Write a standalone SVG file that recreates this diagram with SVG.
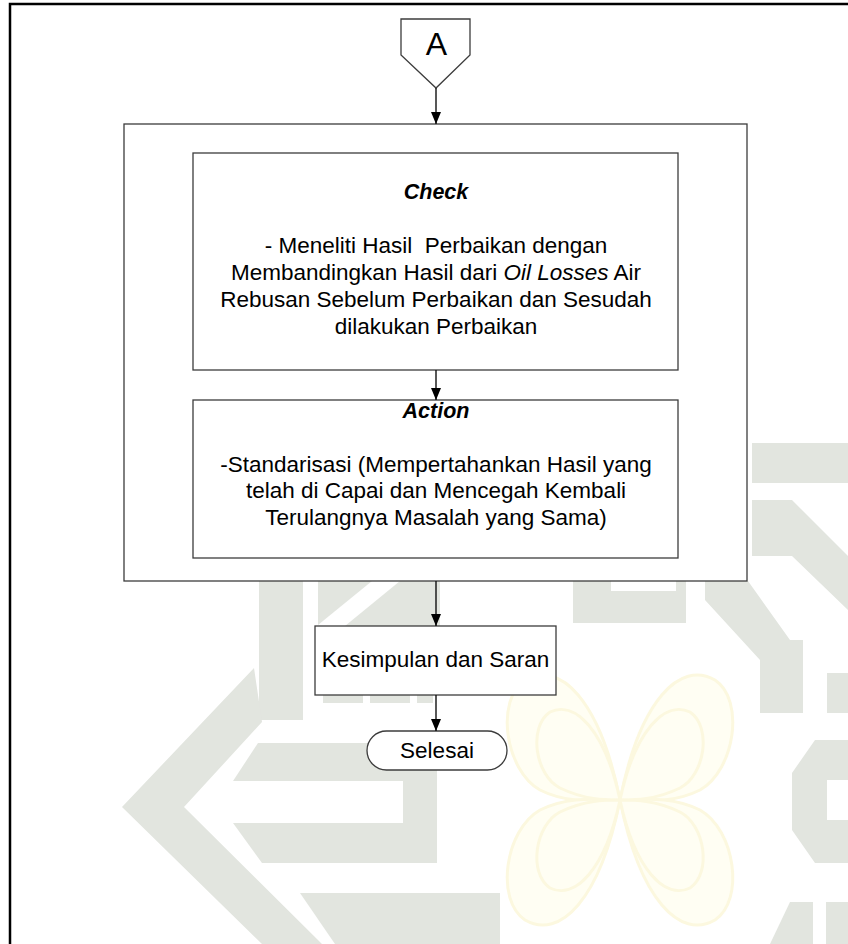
<svg xmlns="http://www.w3.org/2000/svg" width="848" height="944" viewBox="0 0 848 944">
  <defs>
    <style>
      .wm { fill: #e2e5df; stroke: none; }
      .wy { fill: #fffef3; stroke: #fcf8df; stroke-width: 3; }
      .box { fill: #ffffff; stroke: #3c3c3c; stroke-width: 1.3; }
      .lbl { font-family: "Liberation Sans", Arial, sans-serif; font-size: 22.5px; fill: #000; text-anchor: middle; }
      .head { font-family: "Liberation Sans", Arial, sans-serif; font-size: 21.5px; font-weight: bold; font-style: italic; fill: #000; text-anchor: middle; }
      .conn { fill: none; stroke: #111; stroke-width: 1.4; marker-end: url(#arrow); }
    </style>
    <marker id="arrow" viewBox="0 0 12 10" refX="12" refY="5" markerWidth="12" markerHeight="10" markerUnits="userSpaceOnUse" orient="auto">
      <path d="M0,0 L12,5 L0,10 Z" fill="#000"/>
    </marker>
  </defs>

  <rect width="848" height="944" fill="#ffffff"/>

  <!-- faint background emblem -->
  <g id="watermark">
    <g class="wm">
      <rect x="259" y="581" width="44" height="139"/>
      <polygon points="254,668 122,807 262,944 322,944 184,807 262,722"/>
      <polygon points="318,581 372,581 318,625"/>
      <polygon points="400,581 440,581 440,626 345,626"/>
      <rect x="323" y="695" width="40" height="8"/>
      <rect x="370" y="695" width="40" height="8"/>
      <rect x="417" y="695" width="16" height="8"/>
      <polygon points="233,781 258,743 437,743 437,781"/>
      <rect x="403" y="781" width="34" height="42"/>
      <polygon points="233,823 437,823 437,863 262,863"/>
      <polygon points="300,893 500,893 500,944 335,944"/>
      <polygon points="573,581 611,581 611,591 676,591 676,581 686,581 686,623 573,623"/>
      <polygon points="705,581 748,581 790,640 790,713 760,713 760,660 705,600"/>
      <rect x="763" y="640" width="40" height="73"/>
      <rect x="827" y="673" width="21" height="40"/>
      <rect x="752" y="443" width="96" height="40"/>
      <polygon points="752,500 792,500 848,556 848,610 792,556 752,556"/>
      <polygon points="815,740 848,740 848,780 827,780 827,820 848,820 848,863 815,863 792,830 792,773"/>
      <polygon points="790,902 813,902 813,944 770,944"/>
      <rect x="826" y="902" width="22" height="42"/>
    </g>
    <g class="wy">
      <path d="M620,800 C600,700 560,660 525,680 C495,700 505,770 540,790 C570,805 600,800 620,800 Z"/>
      <path d="M620,800 C640,700 680,660 715,680 C745,700 735,770 700,790 C670,805 640,800 620,800 Z"/>
      <path d="M620,800 C600,900 560,940 525,920 C495,900 505,830 540,810 C570,795 600,800 620,800 Z"/>
      <path d="M620,800 C640,900 680,940 715,920 C745,900 735,830 700,810 C670,795 640,800 620,800 Z"/>
      <path d="M620,800 C605,730 575,700 550,712 C528,727 535,775 560,788 C585,800 605,800 620,800 Z"/>
      <path d="M620,800 C635,730 665,700 690,712 C712,727 705,775 680,788 C655,800 635,800 620,800 Z"/>
      <path d="M620,800 C605,870 575,900 550,888 C528,873 535,825 560,812 C585,800 605,800 620,800 Z"/>
      <path d="M620,800 C635,870 665,900 690,888 C712,873 705,825 680,812 C655,800 635,800 620,800 Z"/>
    </g>
  </g>

  <!-- page frame -->
  <path id="frame" d="M10,944 V4 H848" fill="none" stroke="#000" stroke-width="2.5"/>

  <!-- off-page connector A -->
  <g id="node-A">
    <polygon class="box" points="401,19 470,19 470,55 436,88 401,55"/>
    <text x="436.5" y="55" font-family="Liberation Sans, Arial, sans-serif" font-size="32" text-anchor="middle" fill="#000">A</text>
  </g>

  <!-- enclosing phase box -->
  <g id="node-phase">
    <rect class="box" x="124" y="124" width="623" height="457"/>
  </g>

  <g id="node-check">
    <rect class="box" x="193" y="153" width="485" height="217"/>
    <text class="head" x="436" y="199">Check</text>
    <text class="lbl" x="436" y="253" style="white-space:pre">- Meneliti Hasil  Perbaikan dengan</text>
    <text class="lbl" x="436" y="280">Membandingkan Hasil dari <tspan font-style="italic">Oil Losses</tspan> Air</text>
    <text class="lbl" x="436" y="307">Rebusan Sebelum Perbaikan dan Sesudah</text>
    <text class="lbl" x="436" y="334">dilakukan Perbaikan</text>
  </g>

  <g id="node-action">
    <rect class="box" x="193" y="400" width="485" height="158"/>
    <text class="head" x="436" y="418">Action</text>
    <text class="lbl" x="436" y="472">-Standarisasi (Mempertahankan Hasil yang</text>
    <text class="lbl" x="436" y="498">telah di Capai dan Mencegah Kembali</text>
    <text class="lbl" x="436" y="525">Terulangnya Masalah yang Sama)</text>
  </g>

  <g id="node-kesimpulan">
    <rect class="box" x="315" y="626" width="241" height="69"/>
    <text class="lbl" x="435.5" y="667">Kesimpulan dan Saran</text>
  </g>

  <g id="node-selesai">
    <rect class="box" x="367" y="731" width="140" height="39" rx="19.5" ry="19.5"/>
    <text class="lbl" x="437" y="758">Selesai</text>
  </g>

  <g id="connectors">
    <line class="conn" x1="436" y1="88" x2="436" y2="124"/>
    <line class="conn" x1="436" y1="370" x2="436" y2="400"/>
    <line class="conn" x1="436" y1="581" x2="436" y2="626"/>
    <line class="conn" x1="436" y1="695" x2="436" y2="731"/>
  </g>
</svg>
